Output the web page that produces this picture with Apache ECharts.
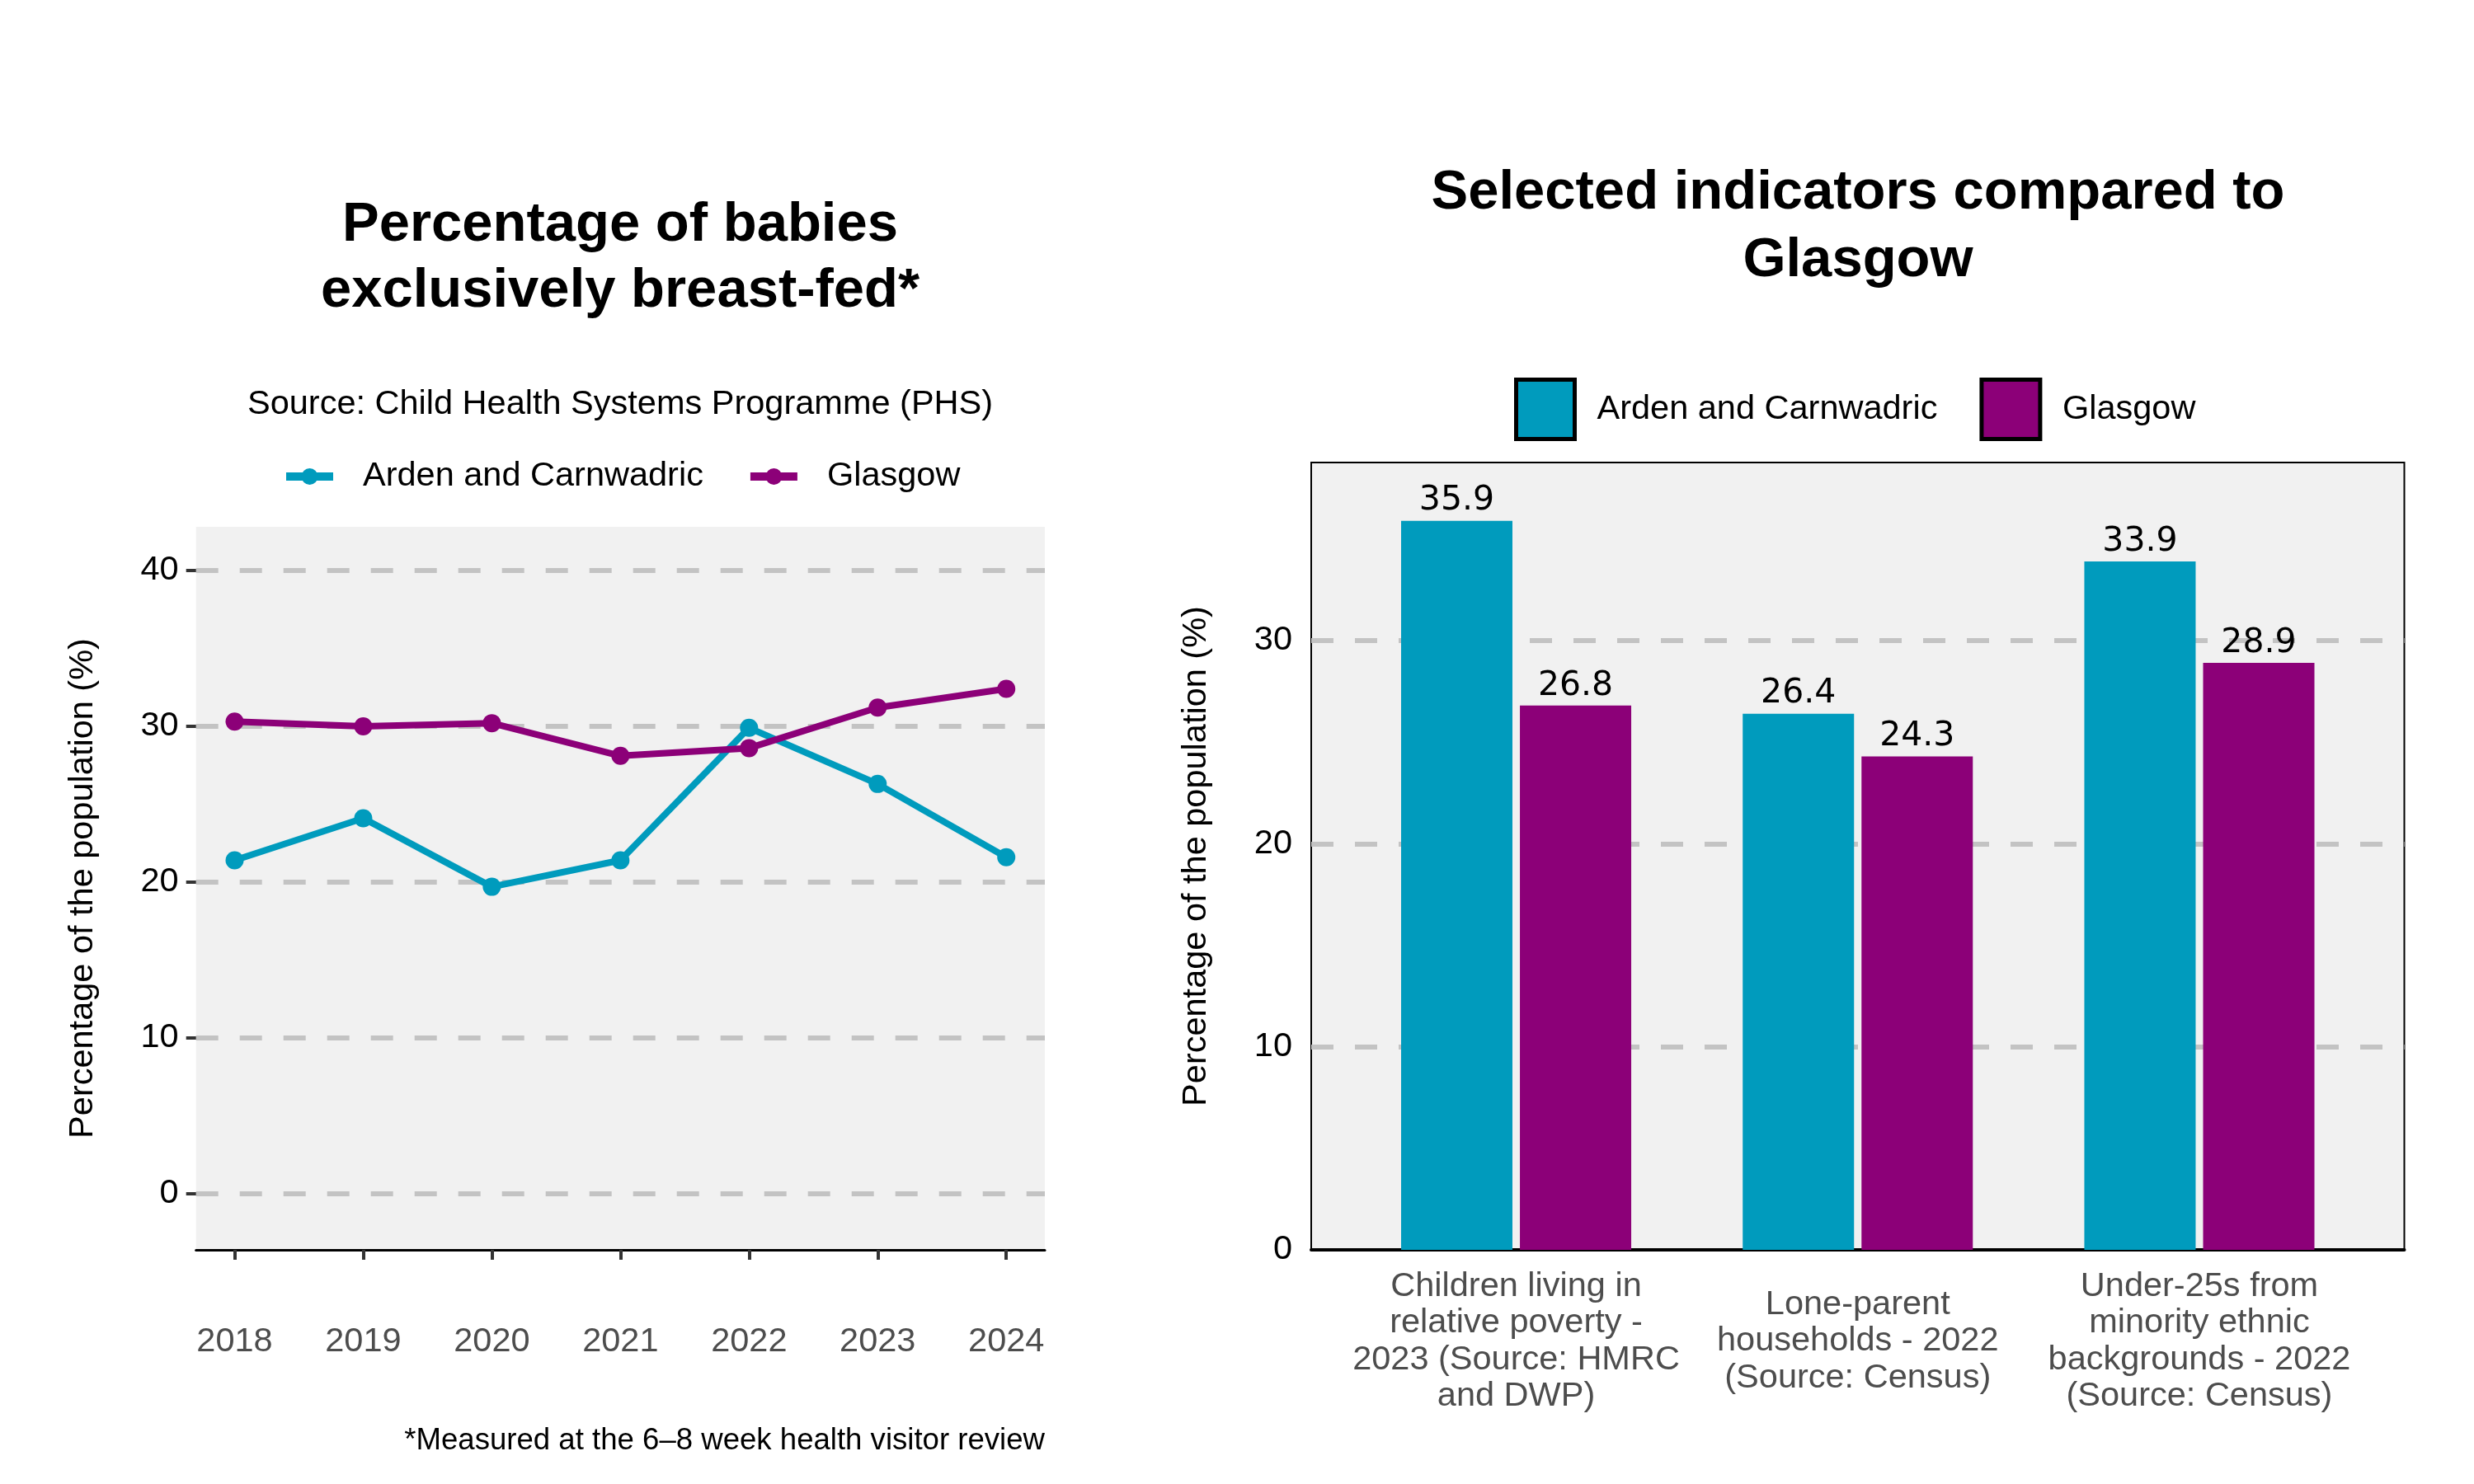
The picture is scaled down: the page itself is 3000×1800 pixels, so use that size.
<!DOCTYPE html>
<html>
<head>
<meta charset="utf-8">
<script src="https://cdn.jsdelivr.net/npm/echarts@6/dist/echarts.min.js"></script>
<style>
  html, body { margin: 0; padding: 0; background: #fff; }
  #chart { width: 3000px; height: 1800px; }
</style>
</head>
<body>
<div id="chart"></div>
<script>
// line chart data
const years = [2018, 2019, 2020, 2021, 2022, 2023, 2024]
const ardenBreastfed = [21.4, 24.1, 19.7, 21.4, 29.9, 26.3, 21.6]
const glasgowBreastfed = [30.3, 30.0, 30.2, 28.1, 28.6, 31.2, 32.4]
const lineTicks = [0, 10, 20, 30, 40]

// bar chart data
const indicators = [
  'Children living in\nrelative poverty -\n2023 (Source: HMRC\nand DWP)',
  'Lone-parent\nhouseholds - 2022\n(Source: Census)',
  'Under-25s from\nminority ethnic\nbackgrounds - 2022\n(Source: Census)'
]
const ardenIndicators = [35.9, 26.4, 33.9]
const glasgowIndicators = [26.8, 24.3, 28.9]
const barTicks = [0, 10, 20, 30]

const TEAL = '#009bbd'
const PURPLE = '#8c0078'
const FONT = 'Liberation Sans'

const gridLine = { color: '#c3c3c3', width: 6, type: [27, 26] }

const chart = echarts.init(document.getElementById('chart'))

chart.setOption({
  animation: false,
  textStyle: { fontFamily: FONT },
  title: [
    {
      text: 'Percentage of babies\nexclusively breast-fed*',
      left: 752, top: 234, textAlign: 'center', padding: 0,
      textStyle: { fontSize: 67, fontWeight: 'bold', lineHeight: 80, color: '#000', fontFamily: FONT }
    },
    {
      text: 'Source: Child Health Systems Programme (PHS)',
      left: 752, top: 467, textAlign: 'center', padding: 0,
      textStyle: { fontSize: 41.5, fontWeight: 'normal', lineHeight: 48, color: '#000', fontFamily: FONT }
    },
    {
      text: '*Measured at the 6\u20138 week health visitor review',
      left: 1267, top: 1726, textAlign: 'right', padding: 0,
      textStyle: { fontSize: 36.6, fontWeight: 'normal', lineHeight: 44, color: '#000', fontFamily: FONT }
    },
    {
      text: 'Selected indicators compared to\nGlasgow',
      left: 2253, top: 194, textAlign: 'center', padding: 0,
      textStyle: { fontSize: 67, fontWeight: 'bold', lineHeight: 82, color: '#000', fontFamily: FONT }
    }
  ],
  legend: [
    {
      data: ['Arden and Carnwadric', 'Glasgow'],
      left: 342, top: 557, padding: 0,
      itemWidth: 57, itemHeight: 25, itemGap: 52,
      lineStyle: { width: 10 },
      textStyle: { fontSize: 41.5, color: '#000', padding: [0, 0, 0, 31], fontFamily: FONT }
    },
    {
      data: ['Arden and Carnwadric', 'Glasgow'],
      icon: 'rect',
      left: 1836, top: 458, padding: 0,
      itemWidth: 71, itemHeight: 72, itemGap: 51,
      itemStyle: { borderColor: '#000', borderWidth: 5 },
      textStyle: { fontSize: 41.5, color: '#000', padding: [0, 0, 0, 22], fontFamily: FONT }
    }
  ],
  grid: [
    // line chart panel
    { left: 237.7, right: 1733, top: 639, bottom: 284, show: true, backgroundColor: '#f1f1f1', borderWidth: 0 },
    // bar chart panel (for background, border and gridlines)
    { left: 1590, right: 84.5, top: 561, bottom: 284, show: true, backgroundColor: '#f1f1f1', borderColor: '#000', borderWidth: 2 },
    // bars, inset by ggplot's discrete expansion (0.6 of a band either side)
    { left: 1631.4, right: 125.9, top: 561, bottom: 284 }
  ],
  xAxis: [
    {
      gridIndex: 0, type: 'value', min: 2017.7, max: 2024.3,
      axisLine: { show: true, onZero: false, lineStyle: { color: '#000', width: 3 } },
      axisTick: { show: true, length: 12, lineStyle: { color: '#333', width: 4 }, customValues: years },
      axisLabel: { customValues: years, formatter: v => String(v), fontSize: 41.5, color: '#4d4d4d', margin: 91 },
      splitLine: { show: false }
    },
    {
      gridIndex: 1, type: 'value', min: 0, max: 1,
      axisLine: { show: true, onZero: false, lineStyle: { color: '#000', width: 4 } },
      axisTick: { show: false }, axisLabel: { show: false }, splitLine: { show: false }
    },
    {
      gridIndex: 2, type: 'category', data: indicators,
      axisLine: { show: false }, axisTick: { show: false },
      axisLabel: { fontSize: 41.5, color: '#4d4d4d', lineHeight: 44.5, verticalAlign: 'middle', margin: 111, interval: 0 }
    }
  ],
  yAxis: [
    {
      gridIndex: 0, type: 'value', min: -3.6, max: 42.8,
      name: 'Percentage of the population (%)', nameLocation: 'middle', nameGap: 116,
      nameTextStyle: { fontSize: 41.5, color: '#000', fontFamily: FONT },
      axisLine: { show: false },
      axisTick: { show: true, length: 12, lineStyle: { color: '#333', width: 4 }, customValues: lineTicks },
      axisLabel: { customValues: lineTicks, fontSize: 41.5, color: '#000', margin: 21 },
      splitLine: { show: true, lineStyle: gridLine }
    },
    {
      gridIndex: 1, type: 'value', min: 0, max: 38.77,
      name: 'Percentage of the population (%)', nameLocation: 'middle', nameGap: 118,
      nameTextStyle: { fontSize: 41.5, color: '#000', fontFamily: FONT },
      axisLine: { show: false },
      axisTick: { show: false, customValues: barTicks.slice(1) },
      axisLabel: { customValues: barTicks, fontSize: 41.5, color: '#000', margin: 23 },
      splitLine: { show: true, lineStyle: gridLine }
    },
    { gridIndex: 2, type: 'value', min: 0, max: 38.77, show: false }
  ],
  series: [
    {
      name: 'Arden and Carnwadric', type: 'line', xAxisIndex: 0, yAxisIndex: 0,
      data: years.map((y, i) => [y, ardenBreastfed[i]]),
      color: TEAL, lineStyle: { width: 8 }, symbol: 'circle', symbolSize: 22
    },
    {
      name: 'Glasgow', type: 'line', xAxisIndex: 0, yAxisIndex: 0,
      data: years.map((y, i) => [y, glasgowBreastfed[i]]),
      color: PURPLE, lineStyle: { width: 8 }, symbol: 'circle', symbolSize: 22
    },
    {
      name: 'Arden and Carnwadric', type: 'bar', xAxisIndex: 2, yAxisIndex: 2,
      data: ardenIndicators, color: TEAL, barWidth: 135, barGap: '6.7%',
      label: { show: true, position: 'top', distance: 4, fontSize: 41, lineHeight: 40, color: '#000', fontFamily: 'DejaVu Sans' }
    },
    {
      name: 'Glasgow', type: 'bar', xAxisIndex: 2, yAxisIndex: 2,
      data: glasgowIndicators, color: PURPLE, barWidth: 135, barGap: '6.7%',
      label: { show: true, position: 'top', distance: 4, fontSize: 41, lineHeight: 40, color: '#000', fontFamily: 'DejaVu Sans' }
    }
  ]
})
</script>
</body>
</html>
